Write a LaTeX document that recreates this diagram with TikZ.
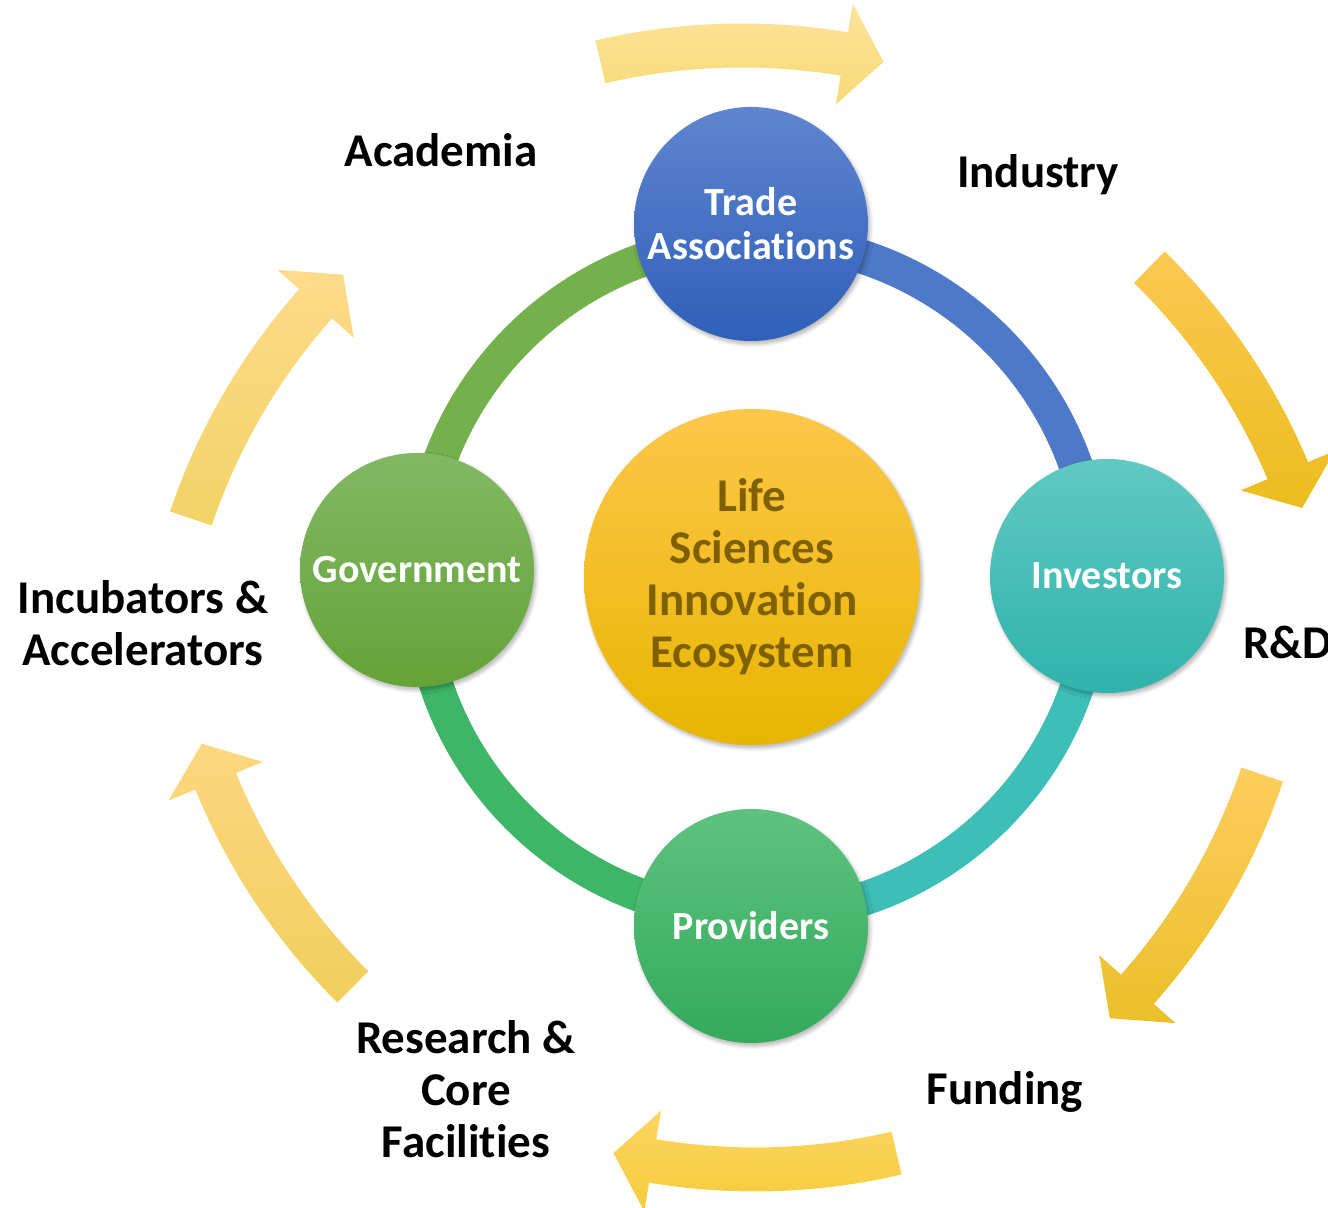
\documentclass[tikz,border=0pt]{standalone}
\usepackage{fontspec}
\setmainfont{Carlito}[Ligatures={TeX,NoCommon}]
\usetikzlibrary{shadows.blur}

\definecolor{tradetop}{HTML}{5F85CF}
\definecolor{tradebot}{HTML}{2F5FB9}
\definecolor{govtop}{HTML}{82B864}
\definecolor{govbot}{HTML}{64A337}
\definecolor{invtop}{HTML}{60C9C3}
\definecolor{invbot}{HTML}{2FB3AB}
\definecolor{provtop}{HTML}{5EC27F}
\definecolor{provbot}{HTML}{33AA5C}
\definecolor{ecotop}{HTML}{FDC74A}
\definecolor{ecomid}{HTML}{FFC000}
\definecolor{ecobot}{HTML}{E8B500}
\definecolor{ecotext}{HTML}{7F6000}
\definecolor{ringgreen}{HTML}{74B04C}
\definecolor{ringblue}{HTML}{4E79C9}
\definecolor{ringteal}{HTML}{3DBFB8}
\definecolor{ringlime}{HTML}{3DB767}

\begin{document}
\begin{tikzpicture}[x=0.5pt,y=0.5pt,
  hub/.style={circle, inner sep=0pt, minimum size=117pt, align=center, text=white,
    font=\fontsize{20}{22}\selectfont\bfseries,
    blur shadow={shadow xshift=1pt, shadow yshift=-1.5pt, shadow opacity=30, shadow blur steps=6}},
  outertext/.style={align=center, font=\fontsize{23.5}{26}\selectfont\bfseries},
  band/.style={line width=17pt}]

\useasboundingbox (0,0) rectangle (1328,1208);

% outer arrows: centre x/y, tail angle, tip angle, colours
\foreach \ox/\oy/\ta/\pa/\tc/\bc [evaluate=\pa as \hb using \pa+3.7] in {
  742/542.5/103.2/76.8/FEE39B/F6DA76,
  716.3/497.1/45.7/19.1/FDC852/EBBD1E,
  674.5/631.2/-18.6/-45.4/FECD5E/EAC02A,
  755/658.5/-76.8/-103.2/FED560/F4CC3C,
  789.7/661/-134.8/-161.5/FED680/F1CF5C,
  778.5/491.8/161.4/134.6/FEDB8A/F1D366}
{
  \begin{scope}[shift={(\ox,\oy)}]
  \definecolor{atop}{HTML}{\tc}
  \definecolor{abot}{HTML}{\bc}
  \shade[top color=atop, bottom color=abot]
    (\ta:642) arc[start angle=\ta, end angle=\hb, radius=642]
    -- (\hb:671) -- (\pa:620) -- (\hb:569) -- (\hb:598)
    arc[start angle=\hb, end angle=\ta, radius=598] -- cycle;
  \end{scope}
}

% ring
\coordinate (ringc) at (757,630);
\draw[band, ringgreen] ([shift={(180:338)}]ringc) arc[start angle=180, end angle=90, radius=338];
\draw[band, ringblue] ([shift={(90:338)}]ringc) arc[start angle=90, end angle=0, radius=338];
\draw[band, ringteal] ([shift={(0:338)}]ringc) arc[start angle=0, end angle=-90, radius=338];
\draw[band, ringlime] ([shift={(-90:338)}]ringc) arc[start angle=-90, end angle=-180, radius=338];

% circles
\node[hub, minimum size=168pt, text=ecotext, font=\fontsize{23.5}{26}\selectfont\bfseries,
  top color=ecotop, middle color=ecomid, bottom color=ecobot] (eco) at (752,631)
  {Life\\Sciences\\Innovation\\Ecosystem};
\node[hub, top color=tradetop, bottom color=tradebot] (trade) at (751,984) {Trade\\Associations};
\node[hub, top color=govtop, bottom color=govbot] (gov) at (417,638) {Government};
\node[hub, top color=invtop, bottom color=invbot] (inv) at (1107,632) {Investors};
\node[hub, top color=provtop, bottom color=provbot] (prov) at (751,282) {Providers};

% labels
\node[outertext] (academia) at (441,1058) {Academia};
\node[outertext] (industry) at (1038,1033) {Industry};
\node[outertext, anchor=west] (rnd) at (1236,566) {R\&D};
\node[outertext] (funding) at (1005,116) {Funding};
\node[outertext] (research) at (466,119) {Research \&\\Core\\Facilities};
\node[outertext] (incub) at (143,585) {Incubators \&\\Accelerators};

\end{tikzpicture}
\end{document}
